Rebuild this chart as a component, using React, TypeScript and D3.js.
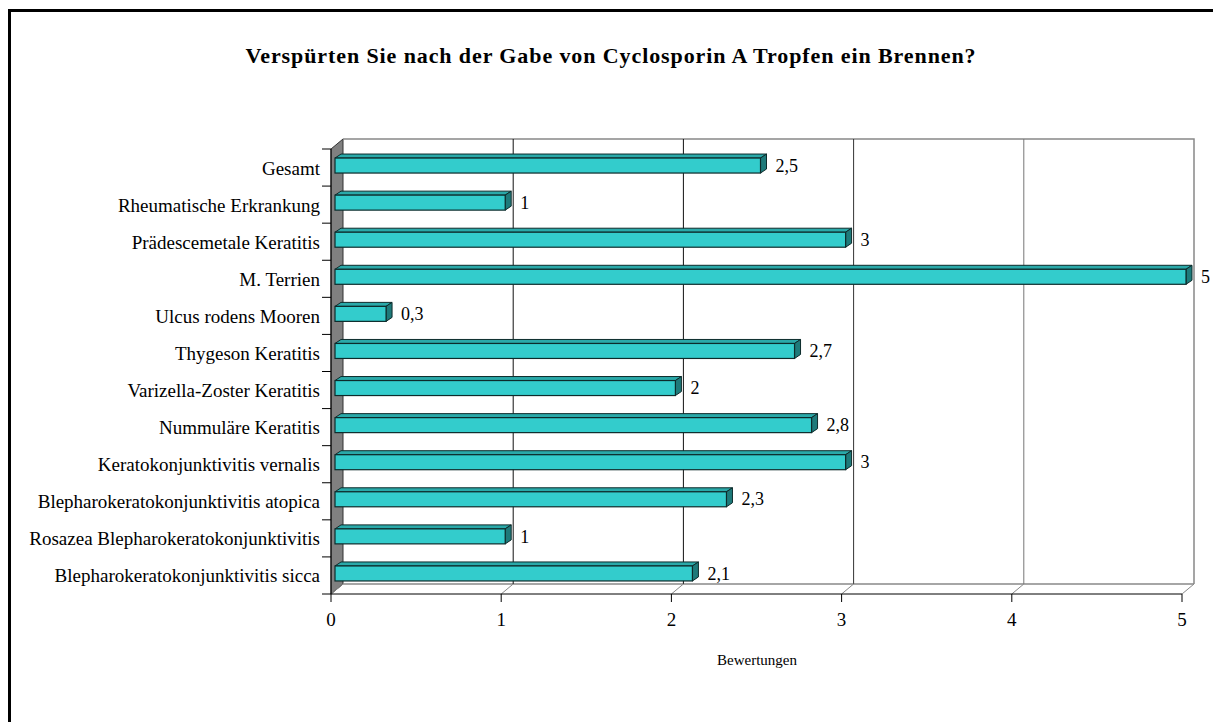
import React from "react";
import * as d3 from "d3";

const title = "Verspürten Sie nach der Gabe von Cyclosporin A Tropfen ein Brennen?";
const categories = [
  "Gesamt",
  "Rheumatische Erkrankung",
  "Prädescemetale Keratitis",
  "M. Terrien",
  "Ulcus rodens Mooren",
  "Thygeson Keratitis",
  "Varizella-Zoster Keratitis",
  "Nummuläre Keratitis",
  "Keratokonjunktivitis vernalis",
  "Blepharokeratokonjunktivitis atopica",
  "Rosazea Blepharokeratokonjunktivitis",
  "Blepharokeratokonjunktivitis sicca",
];
const values = [2.5, 1, 3, 5, 0.3, 2.7, 2, 2.8, 3, 2.3, 1, 2.1];
const xTicks = [0, 1, 2, 3, 4, 5];
const xTitle = "Bewertungen";

const locale = d3.formatLocale({ decimal: ",", thousands: ".", grouping: [3], currency: ["", "€"] });
const fmt = (v: number) => locale.format("~g")(v);

export default function App() {
  const W = 1213, H = 722;
  const x0 = 331, x1 = 1182, yTop = 149, yBot = 594;
  const DX = 12, DY = -10; // wall depth
  const BFX = 4, BFY = -3; // bar front offset
  const BDX = 6, BDY = -4; // bar depth
  const x = d3.scaleLinear().domain([0, 5]).range([x0, x1]);
  const y = d3.scaleBand<string>().domain(categories).range([yTop, yBot]);
  const bw = 15;
  const font = "'Liberation Serif', 'Times New Roman', serif";
  const gridColors = ["#000", "#111", "#111", "#333", "#777", "#888"];

  return (
    <svg width={W} height={H} style={{ position: "absolute", left: 0, top: 0 }} fontFamily={font}>
      <rect x={0} y={0} width={W} height={H} fill="#fff" />
      <rect x={9.5} y={10.5} width={1400} height={900} fill="none" stroke="#000" strokeWidth={3} />
      <text x={611} y={63} textAnchor="middle" fontSize={22} letterSpacing={0.9} fontWeight="bold">{title}</text>

      {/* left wall */}
      <polygon
        points={`${x0},${yTop} ${x0 + DX},${yTop + DY} ${x0 + DX},${yBot + DY} ${x0},${yBot}`}
        fill="#808080" stroke="#333" strokeWidth={1}
      />
      {/* back wall outline */}
      <polyline
        points={`${x0 + DX},${yTop + DY} ${x1 + DX},${yTop + DY} ${x1 + DX},${yBot + DY}`}
        fill="none" stroke="#888" strokeWidth={1.5}
      />
      {/* floor */}
      <line x1={x0 + DX} x2={x1 + DX} y1={yBot + DY} y2={yBot + DY} stroke="#888" strokeWidth={1.5} />
      {xTicks.map((t, i) => (
        <g key={t}>
          {t > 0 && t < 5 && (
            <line x1={x(t) + DX} x2={x(t) + DX} y1={yTop + DY} y2={yBot + DY} stroke={gridColors[i]} strokeWidth={1} />
          )}
          <line x1={x(t)} x2={x(t) + DX} y1={yBot} y2={yBot + DY} stroke="#888" strokeWidth={1} />
        </g>
      ))}

      {/* bars */}
      {categories.map((c, i) => {
        const v = values[i];
        const yc = (y(c) as number) + y.bandwidth() / 2;
        const fx0 = x(0) + BFX, fx1 = x(v) + BFX;
        const fy0 = yc - bw / 2 + BFY + 1, fy1 = fy0 + bw;
        return (
          <g key={c}>
            <polygon
              points={`${fx0},${fy0} ${fx0 + BDX},${fy0 + BDY} ${fx1 + BDX},${fy0 + BDY} ${fx1},${fy0}`}
              fill="#2aa9a9" stroke="#0d2b2b" strokeWidth={1}
            />
            <polygon
              points={`${fx1},${fy0} ${fx1 + BDX},${fy0 + BDY} ${fx1 + BDX},${fy1 + BDY} ${fx1},${fy1}`}
              fill="#1e7a7a" stroke="#0d2b2b" strokeWidth={1}
            />
            <rect x={fx0} y={fy0} width={fx1 - fx0} height={bw} fill="#33cccc" stroke="#0d2b2b" strokeWidth={1.2} />
            <text x={fx1 + BDX + 9} y={yc} fontSize={18} dominantBaseline="middle">{fmt(v)}</text>
          </g>
        );
      })}

      {/* axes */}
      <line x1={x0} x2={x0} y1={yTop} y2={yBot} stroke="#000" strokeWidth={1} />
      <line x1={x0} x2={x1} y1={yBot} y2={yBot} stroke="#000" strokeWidth={1} />
      {d3.range(categories.length + 1).map((k) => {
        const yy = yTop + k * y.step();
        return <line key={k} x1={x0 - 9} x2={x0} y1={yy} y2={yy} stroke="#000" strokeWidth={1} />;
      })}
      {categories.map((c) => (
        <text key={c} x={320} y={(y(c) as number) + y.bandwidth() / 2 + 7} textAnchor="end" fontSize={19}>{c}</text>
      ))}
      {xTicks.map((t) => (
        <g key={t}>
          <line x1={x(t)} x2={x(t)} y1={yBot} y2={yBot + 8} stroke="#000" strokeWidth={1} />
          <text x={x(t)} y={626} textAnchor="middle" fontSize={19}>{t}</text>
        </g>
      ))}
      <text x={757} y={665} textAnchor="middle" fontSize={15}>{xTitle}</text>
    </svg>
  );
}
